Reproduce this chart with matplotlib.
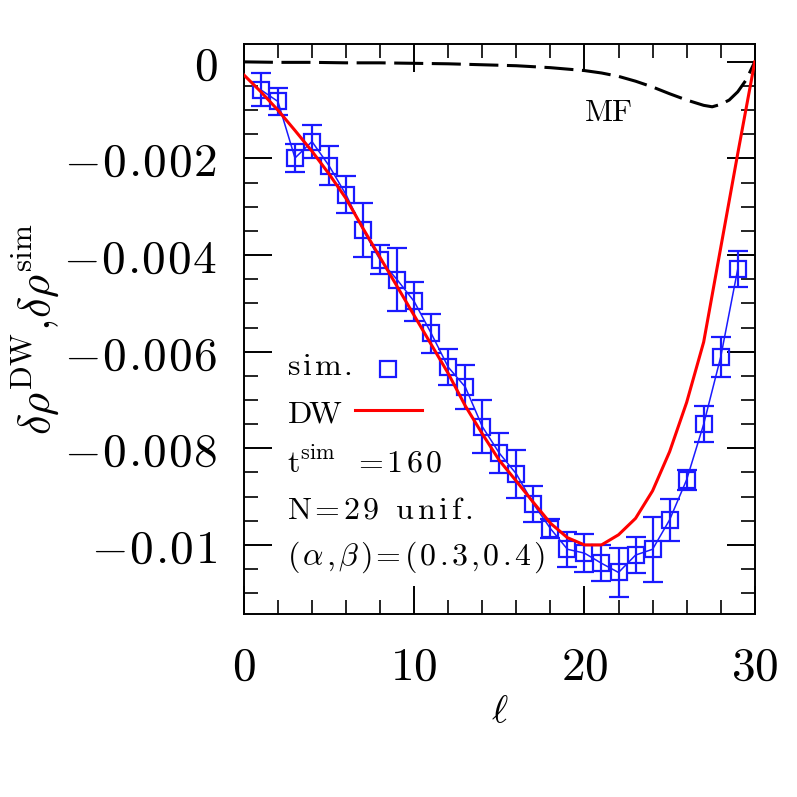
"""Density profile: simulation vs domain-wall theory vs mean field"""
import matplotlib
matplotlib.use("Agg")
import matplotlib.pyplot as plt
from matplotlib.ticker import MultipleLocator, FuncFormatter

plt.rcParams['mathtext.fontset'] = 'cm'
plt.rcParams['font.family'] = 'serif'

# simulation points (l, value, error)
sim_l = list(range(1, 30))
sim_val = [-0.00058, -0.00082, -0.00199, -0.00165, -0.00215, -0.00275, -0.00348, -0.00410,
           -0.00451, -0.00496, -0.00562, -0.00632, -0.00673, -0.00755, -0.00810, -0.00853,
           -0.00915, -0.00966, -0.01009, -0.01017, -0.01038, -0.01057, -0.01021, -0.01009,
           -0.00948, -0.00865, -0.00750, -0.00611, -0.00429]
sim_err = [0.00034, 0.00027, 0.00030, 0.00035, 0.00040, 0.00038, 0.00055, 0.00030,
           0.00065, 0.00040, 0.00040, 0.00037, 0.00046, 0.00054, 0.00042, 0.00049,
           0.00038, 0.00020, 0.00036, 0.00040, 0.00037, 0.00050, 0.00037, 0.00067,
           0.00044, 0.00021, 0.00037, 0.00041, 0.00038]

# domain wall theory
dw_l = list(range(0, 31))
dw_val = [-0.00027, -0.00062, -0.00100, -0.00142, -0.00185, -0.00232, -0.00283, -0.00345,
          -0.00405, -0.00465, -0.00525, -0.00585, -0.00645, -0.00712, -0.00770, -0.00825,
          -0.00868, -0.00912, -0.00955, -0.00985, -0.01000, -0.01000, -0.00979, -0.00945,
          -0.00888, -0.00807, -0.00705, -0.00580, -0.00385, -0.00190, 0.0]

# mean field
mf_l = [0, 2, 4, 6, 8, 10, 12, 14, 16, 18, 20, 21, 22, 23, 24, 25, 26, 27, 27.5, 28,
        28.5, 29, 29.5, 30]
mf_val = [0.0, -0.00001, -0.00001, -0.00002, -0.00002, -0.00003, -0.00004, -0.00006,
          -0.00008, -0.00012, -0.00018, -0.00023, -0.00030, -0.00040, -0.00052, -0.00066,
          -0.00079, -0.00090, -0.00093, -0.00088, -0.00079, -0.00062, -0.00037, 0.0]

blue = '#1a1aff'
text_size = 23


def txt(s):
    return [r'\ ' if c == ' ' else r'\text{%s}' % c for c in s]


# join pieces with a bit of letter spacing, like the original plotting program
def spaced(tokens, gap):
    return '$' + (r'\hspace{%g}' % gap).join(tokens) + '$'


fig = plt.figure(figsize=(7.97, 7.97), dpi=100)
ax = fig.add_axes([0.306, 0.2296, 0.641, 0.7152])

ax.plot(mf_l, mf_val, color='black', lw=2.2, dashes=(9.5, 2.8), zorder=2)
ax.errorbar(sim_l, sim_val, yerr=sim_err, color=blue, lw=1.1, elinewidth=1.6,
            capsize=7.5, capthick=1.6, marker='s', ms=11, mfc='none', mec=blue,
            mew=1.6, zorder=3)
ax.plot(dw_l, dw_val, color='red', lw=2.2, zorder=4)

# legend keys (labels are written as text next to them)
h_sim, = ax.plot([], [], ls='none', marker='s', ms=11, mfc='none', mec=blue, mew=1.6)
h_dw, = ax.plot([], [], color='red', lw=2.2)
ax.legend([h_sim, h_dw], ['', ''], loc='upper left', bbox_to_anchor=(0.2172, 0.452),
          frameon=False, markerfirst=False, fontsize=text_size, handlelength=2.09,
          handletextpad=0, labelspacing=0.31, borderpad=0, borderaxespad=0)

notes = [
    (0.4193, spaced(txt('sim.'), 0.1)),
    (0.3368, spaced(txt('DW'), -0.1)),
    (0.2491, spaced([r'\text{t}^{\mathrm{sim}}', r'\hspace{0.55}'] + txt('=160'), 0.12)),
    (0.1684, spaced(txt('N=29') + [r'\hspace{0.35}'] + txt('unif.'), 0.13)),
    (0.0860, spaced([r'(', r'\alpha', r'\text{,}', r'\beta', r')'] + txt('=(0.3,0.4)'), 0.12)),
]
for y, s in notes:
    ax.text(0.084, y, s, transform=ax.transAxes, fontsize=text_size, va='baseline', ha='left')
ax.text(21.4, -0.00105, spaced(txt('MF'), 0.0), fontsize=22, ha='center', va='center')

ax.set_xlim(0, 30)
ax.set_ylim(-0.01143, 0.00037)
ax.xaxis.set_major_locator(MultipleLocator(10))
ax.xaxis.set_minor_locator(MultipleLocator(2))
ax.yaxis.set_major_locator(MultipleLocator(0.002))
ax.yaxis.set_minor_locator(MultipleLocator(0.0005))
ax.xaxis.set_major_formatter(FuncFormatter(lambda v, p: r'$%g$' % v))


def ylab(v, p):
    s = '%g' % (round(v, 6) + 0.0)
    toks = ['-' if c == '-' else r'\text{%s}' % c for c in s]
    return spaced(toks, 0.045)


ax.yaxis.set_major_formatter(FuncFormatter(ylab))

ax.tick_params(which='both', direction='in', top=True, right=True)
ax.tick_params(which='major', length=20, width=1.4, labelsize=34)
ax.tick_params(axis='y', which='major', pad=19)
ax.tick_params(axis='x', which='major', pad=22)
ax.tick_params(which='minor', length=10, width=1.2)
for s in ax.spines.values():
    s.set_linewidth(1.4)

ax.set_xlabel(r'$\ell$', fontsize=28, labelpad=2)
ax.set_ylabel(r'$\delta\rho^{\mathrm{DW}},\!\delta\rho^{\mathrm{sim}}$', fontsize=32, labelpad=2)

fig.savefig('out.png', dpi=100)
